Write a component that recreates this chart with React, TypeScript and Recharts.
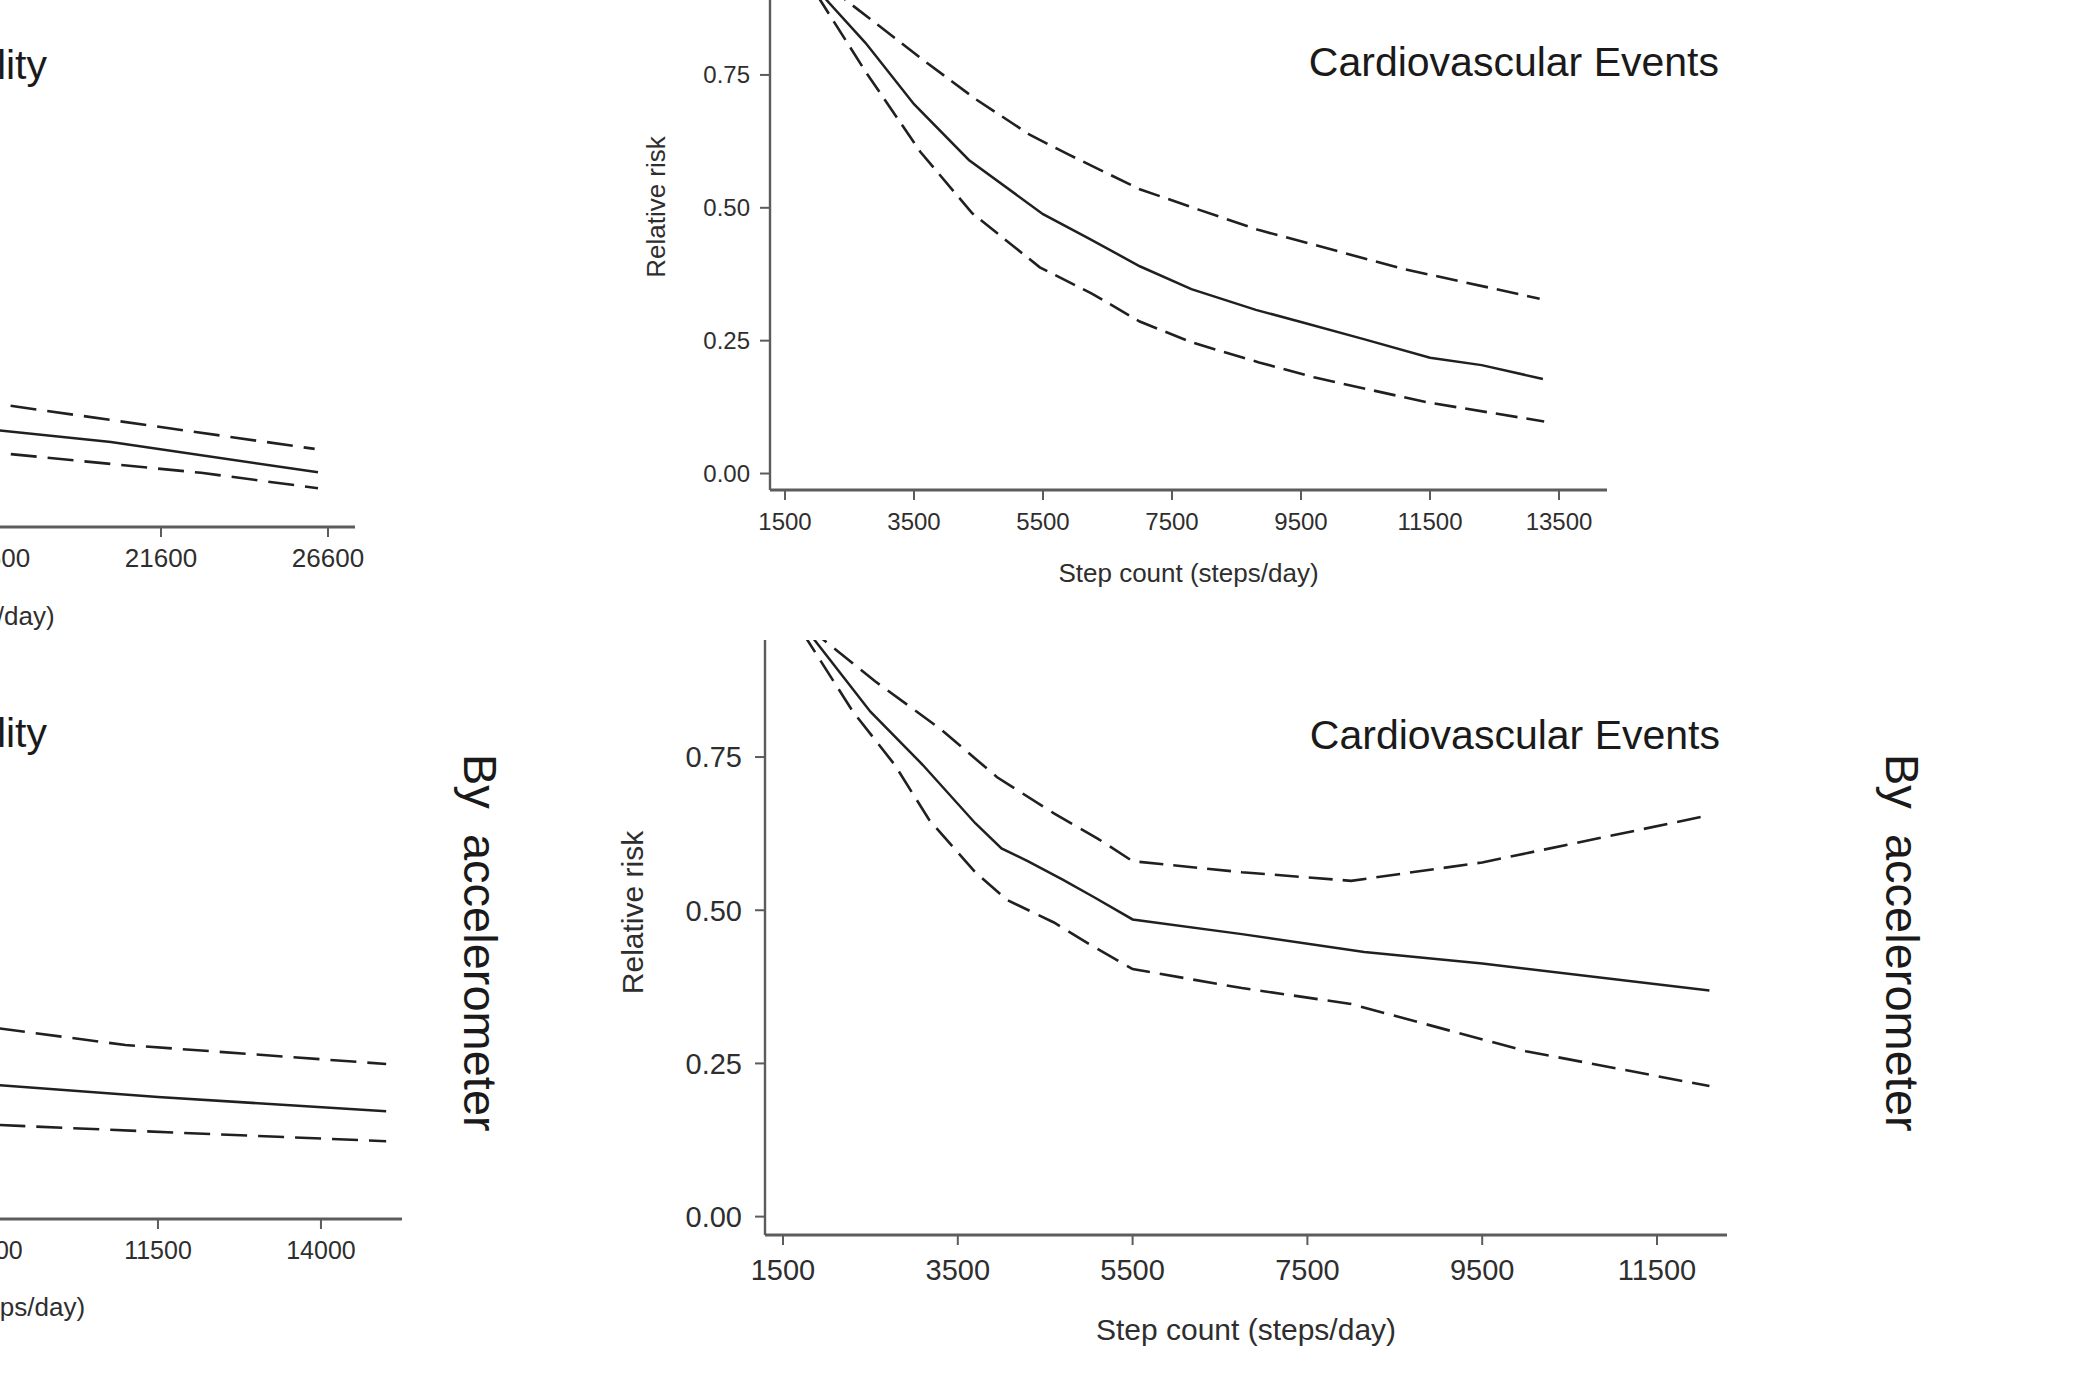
import React from 'react'
import { LineChart, Line, XAxis, YAxis } from 'recharts'

// [steps/day, relative risk]

// top right: cardiovascular events
const trSolid = [[1500, 1.0], [2150, 0.89], [2750, 0.81], [3500, 0.695], [4350, 0.59], [5500, 0.488], [6200, 0.443], [7000, 0.39], [7800, 0.347], [8800, 0.308], [9500, 0.285], [10500, 0.252], [11500, 0.218], [12300, 0.204], [13250, 0.178]]
const trUpper = [[1500, 1.0], [2450, 0.89], [3600, 0.782], [4450, 0.705], [5300, 0.637], [5900, 0.6], [7000, 0.535], [7900, 0.497], [8850, 0.458], [9500, 0.437], [11050, 0.386], [13200, 0.329]]
const trLower = [[1500, 1.0], [2050, 0.89], [2750, 0.756], [3600, 0.605], [4400, 0.49], [5450, 0.388], [6250, 0.339], [7000, 0.286], [7800, 0.247], [8850, 0.209], [9700, 0.181], [11450, 0.134], [13270, 0.098]]

// bottom right: cardiovascular events, by accelerometer
const brSolid = [[1500, 1.0], [1850, 0.943], [2500, 0.824], [3100, 0.737], [3700, 0.642], [4000, 0.601], [4300, 0.58], [4700, 0.55], [5050, 0.522], [5500, 0.485], [6750, 0.461], [8150, 0.432], [9500, 0.413], [12100, 0.369]]
const brUpper = [[1500, 1.0], [1950, 0.943], [2550, 0.874], [3300, 0.796], [3950, 0.717], [4600, 0.658], [5100, 0.617], [5500, 0.58], [6750, 0.562], [8000, 0.548], [9500, 0.578], [12100, 0.655]]
const brLower = [[1500, 1.0], [1770, 0.943], [2300, 0.824], [2780, 0.737], [3170, 0.648], [3700, 0.562], [4060, 0.517], [4600, 0.48], [5000, 0.445], [5500, 0.404], [6750, 0.373], [8000, 0.347], [10000, 0.27], [12100, 0.213]]

// top left: mortality (only the right end is visible)
const tlSolid = [[16000, 0.157], [20100, 0.13], [26300, 0.073]]
const tlUpper = [[16000, 0.208], [22500, 0.15], [26200, 0.117]]
const tlLower = [[16000, 0.114], [22800, 0.072], [26300, 0.043]]

// bottom left: mortality, by accelerometer
const blSolid = [[8500, 0.194], [11500, 0.17], [15000, 0.147]]
const blUpper = [[8500, 0.29], [11000, 0.255], [15000, 0.224]]
const blLower = [[8500, 0.127], [12000, 0.111], [15000, 0.098]]

const trTicks = [1500, 3500, 5500, 7500, 9500, 11500, 13500]
const brTicks = [1500, 3500, 5500, 7500, 9500, 11500]
// left panels: only the ticks that reach into the picture
const tlTicks = [16600, 21600, 26600]
const blTicks = [9000, 11500, 14000]
const riskTicks = [0, 0.25, 0.5, 0.75]

const font = '"Liberation Sans", Arial, Helvetica, sans-serif'
const ink = '#202020'
const axisGrey = '#5c5c5c'

const toPoints = (rows: number[][]) => rows.map(([x, y]) => ({ x, y }))

function AxisTitle(props: any) {
  const { viewBox, kind, text, gap, shift, size } = props
  if (!viewBox) return null
  const { x, y, width, height } = viewBox
  if (kind === 'x') {
    return (
      <text x={x + width / 2 + (shift || 0)} y={y + gap} textAnchor="middle" fontSize={size} fill="#2e2e2e" fontFamily={font}>
        {text}
      </text>
    )
  }
  const cx = x + width - gap
  const cy = y + height / 2 + shift
  return (
    <text x={cx} y={cy} transform={`rotate(-90 ${cx} ${cy})`} textAnchor="middle" dominantBaseline="central" fontSize={size} fill="#2e2e2e" fontFamily={font}>
      {text}
    </text>
  )
}

interface PanelProps {
  left: number
  top: number
  width: number
  height: number
  yw: number
  xh: number
  xDomain: [number, number]
  yDomain: [number, number]
  xTicks: number[]
  tickFont: number
  xTickMargin: number
  yTickMargin: number
  titleFont: number
  xTitleGap: number
  xTitleShift: number
  yTitleGap: number
  yTitleShift: number
  showY: boolean
  dash: string
  solid: number[][]
  upper: number[][]
  lower: number[][]
}

function Panel(p: PanelProps) {
  const tick = { fill: '#2e2e2e', fontSize: p.tickFont, fontFamily: font }
  return (
    <div style={{ position: 'absolute', left: p.left, top: p.top }}>
      <LineChart width={p.width + 40} height={p.height} margin={{ top: 0, right: 40, bottom: 0, left: 0 }}>
        <XAxis
          type="number"
          dataKey="x"
          domain={p.xDomain}
          ticks={p.xTicks}
          interval={0}
          allowDataOverflow
          height={p.xh}
          tickSize={10}
          tickMargin={p.xTickMargin}
          axisLine={{ stroke: axisGrey, strokeWidth: 2.8 }}
          tickLine={{ stroke: axisGrey, strokeWidth: 2 }}
          tick={tick}
          label={<AxisTitle kind="x" text="Step count (steps/day)" gap={p.xTitleGap} shift={p.xTitleShift} size={p.titleFont} />}
        />
        <YAxis
          type="number"
          domain={p.yDomain}
          ticks={riskTicks}
          interval={0}
          allowDataOverflow
          width={p.yw}
          tickSize={10}
          tickMargin={p.yTickMargin}
          tickFormatter={(v: number) => v.toFixed(2)}
          axisLine={{ stroke: axisGrey, strokeWidth: 2.4 }}
          tickLine={p.showY ? { stroke: axisGrey, strokeWidth: 2 } : false}
          tick={p.showY ? tick : false}
          label={p.showY ? <AxisTitle kind="y" text="Relative risk" gap={p.yTitleGap} shift={p.yTitleShift} size={p.titleFont} /> : undefined}
        />
        <Line data={toPoints(p.upper)} dataKey="y" type="linear" dot={false} stroke={ink} strokeWidth={2.6} strokeDasharray={p.dash} isAnimationActive={false} />
        <Line data={toPoints(p.solid)} dataKey="y" type="linear" dot={false} stroke={ink} strokeWidth={2.5} isAnimationActive={false} />
        <Line data={toPoints(p.lower)} dataKey="y" type="linear" dot={false} stroke={ink} strokeWidth={2.6} strokeDasharray={p.dash} isAnimationActive={false} />
      </LineChart>
    </div>
  )
}

function Title({ text, right, baseline }: { text: string; right: number; baseline: number }) {
  return (
    <div
      style={{
        position: 'absolute',
        right: 2100 - right,
        top: baseline - 0.8465 * 41,
        fontSize: 41,
        lineHeight: '41px',
        fontFamily: font,
        color: '#1a1a1a',
        whiteSpace: 'nowrap',
      }}
    >
      {text}
    </div>
  )
}

function SideLabel({ left }: { left: number }) {
  return (
    <div
      style={{
        position: 'absolute',
        left,
        top: 754,
        writingMode: 'vertical-rl',
        fontSize: 47,
        lineHeight: '47px',
        wordSpacing: 12,
        fontFamily: font,
        color: '#1a1a1a',
        whiteSpace: 'nowrap',
      }}
    >
      By accelerometer
    </div>
  )
}

export default function App() {
  return (
    <div style={{ position: 'absolute', left: 0, top: 0, width: 2100, height: 1400, overflow: 'hidden', background: '#fff' }}>
      <Panel
        left={-622} top={0} width={977} height={647} yw={100} xh={120}
        xDomain={[1151, 27408]} yDomain={[-0.03, 0.962]} xTicks={tlTicks}
        tickFont={26} xTickMargin={12} yTickMargin={10} titleFont={26}
        xTitleGap={98} xTitleShift={8} yTitleGap={80} yTitleShift={0} showY={false} dash="26 11"
        solid={tlSolid} upper={tlUpper} lower={tlLower}
      />
      <Panel
        left={-610} top={640} width={1012} height={699} yw={100} xh={120}
        xDomain={[1255, 15243]} yDomain={[-0.029, 0.916]} xTicks={blTicks}
        tickFont={25} xTickMargin={12} yTickMargin={10} titleFont={26}
        xTitleGap={97} xTitleShift={9} yTitleGap={80} yTitleShift={0} showY={false} dash="26 11"
        solid={blSolid} upper={blUpper} lower={blLower}
      />
      <Panel
        left={620} top={0} width={987} height={600} yw={150} xh={110}
        xDomain={[1267, 14244]} yDomain={[-0.031, 0.891]} xTicks={trTicks}
        tickFont={24} xTickMargin={13} yTickMargin={10} titleFont={26}
        xTitleGap={92} xTitleShift={0} yTitleGap={114} yTitleShift={-38} showY dash="22 9"
        solid={trSolid} upper={trUpper} lower={trLower}
      />
      <Panel
        left={605} top={640} width={1122} height={725} yw={160} xh={130}
        xDomain={[1294, 12301]} yDomain={[-0.03, 0.941]} xTicks={brTicks}
        tickFont={29} xTickMargin={14} yTickMargin={13} titleFont={30}
        xTitleGap={105} xTitleShift={0} yTitleGap={133} yTitleShift={-25} showY dash="24 10"
        solid={brSolid} upper={brUpper} lower={brLower}
      />
      <Title text="All-cause Mortality" right={47} baseline={80} />
      <Title text="All-cause Mortality" right={47} baseline={748} />
      <Title text="Cardiovascular Events" right={1719} baseline={77} />
      <Title text="Cardiovascular Events" right={1720} baseline={750} />
      <SideLabel left={457} />
      <SideLabel left={1879} />
    </div>
  )
}
